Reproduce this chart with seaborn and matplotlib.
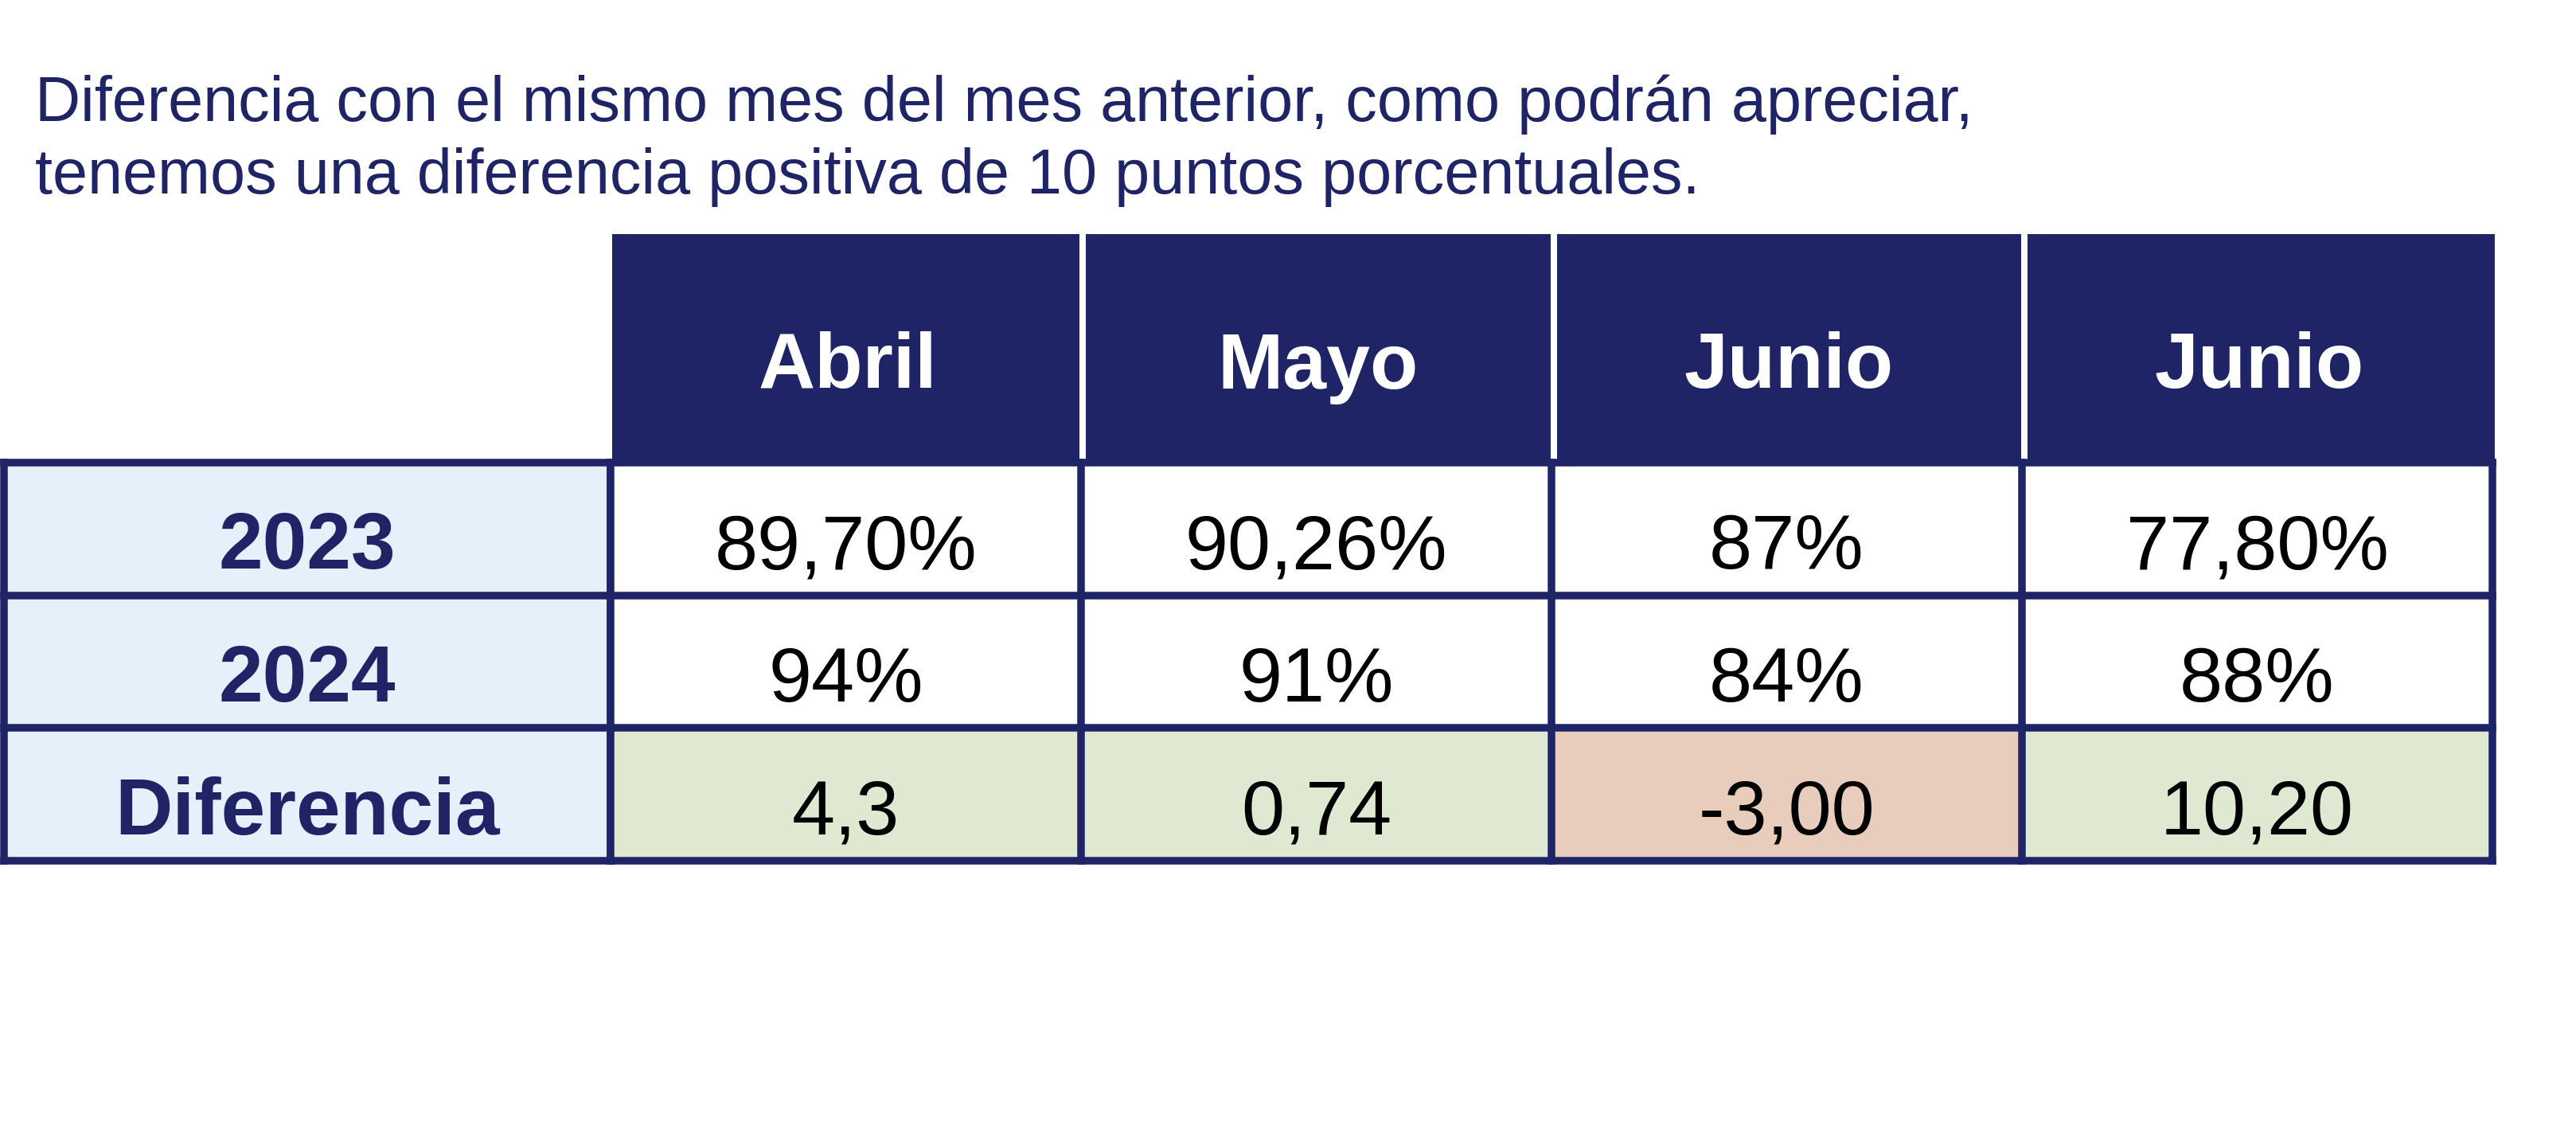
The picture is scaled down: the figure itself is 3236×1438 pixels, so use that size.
import numpy as np
import pandas as pd
import matplotlib
matplotlib.use("Agg")
import matplotlib.pyplot as plt
import seaborn as sns
from matplotlib.colors import ListedColormap
from matplotlib.transforms import ScaledTranslation

# Table contents
months = ["Abril", "Mayo", "Junio", "Junio"]
row_labels = ["2023", "2024", "Diferencia"]
values_2023 = ["89,70%", "90,26%", "87%", "77,80%"]
values_2024 = ["94%", "91%", "84%", "88%"]
diferencia = ["4,3", "0,74", "-3,00", "10,20"]
title_lines = [
    "Diferencia con el mismo mes del mes anterior, como podrán apreciar,",
    "tenemos una diferencia positiva de 10 puntos porcentuales.",
]

NAVY = "#1F2466"
LABEL_BG = "#E6F0FA"
GREEN = "#DFE8D0"
SALMON = "#E8CCBC"

W, H, DPI = 3236, 1438, 100
LW = 9.5 * 72 / DPI  # grid line width in px -> pt

sns.set_theme(style="white")
plt.rcParams["font.family"] = ["Liberation Sans", "DejaVu Sans"]

fig = plt.figure(figsize=(W / DPI, H / DPI), dpi=DPI)
fig.patch.set_facecolor("white")


def px_axes(x0, y0, x1, y1):
    # axes from pixel box (top-left origin)
    return fig.add_axes([x0 / W, 1 - y1 / H, (x1 - x0) / W, (y1 - y0) / H])


def baseline_shift(ax, px):
    return ax.transData + ScaledTranslation(0, -px / DPI, fig.dpi_scale_trans)


# header row
ax_head = px_axes(769, 294, 3134, 581)
sns.heatmap(np.zeros((1, len(months))), ax=ax_head, cmap=ListedColormap([NAVY]),
            cbar=False, xticklabels=False, yticklabels=False,
            annot=np.array([months]), fmt="",
            annot_kws=dict(color="white", fontsize=71, fontweight="bold", va="baseline",
                           transform=baseline_shift(ax_head, 50)))
ax_head.vlines(range(1, len(months)), 0, 1, colors="white", lw=8 * 72 / DPI)
ax_head.axis("off")

# row label column
ax_lab = px_axes(4.5, 581, 767, 1081)
sns.heatmap(np.zeros((len(row_labels), 1)), ax=ax_lab, cmap=ListedColormap([LABEL_BG]),
            cbar=False, xticklabels=False, yticklabels=False,
            annot=np.array(row_labels).reshape(-1, 1), fmt="",
            annot_kws=dict(color=NAVY, fontsize=72, fontweight="bold", va="baseline",
                           transform=baseline_shift(ax_lab, 50)))
ax_lab.hlines(range(len(row_labels) + 1), 0, 1, colors=NAVY, lw=LW, clip_on=False,
              capstyle="projecting")
ax_lab.vlines([0, 1], 0, len(row_labels), colors=NAVY, lw=LW, clip_on=False,
              capstyle="projecting")
ax_lab.axis("off")

# data cells, difference row coloured by sign
diff_num = np.array([float(v.replace(",", ".")) for v in diferencia])
codes = np.vstack([np.zeros(4), np.zeros(4), np.where(diff_num >= 0, 1, 2)])
annot = np.array([values_2023, values_2024, diferencia])
df = pd.DataFrame(codes, index=row_labels, columns=months)

ax = px_axes(767, 581, 3131, 1081)
sns.heatmap(df, ax=ax, cmap=ListedColormap(["white", GREEN, SALMON]), vmin=0, vmax=2,
            cbar=False, xticklabels=False, yticklabels=False,
            annot=annot, fmt="",
            annot_kws=dict(color="black", fontsize=70, va="baseline",
                           transform=baseline_shift(ax, 50)))
ax.hlines(range(len(row_labels) + 1), 0, len(months), colors=NAVY, lw=LW, clip_on=False,
          capstyle="projecting")
ax.vlines(range(len(months) + 1), 0, len(row_labels), colors=NAVY, lw=LW, clip_on=False,
          capstyle="projecting")
ax.axis("off")

# title
for line, base in zip(title_lines, [152, 243]):
    fig.text(44 / W, 1 - base / H, line, ha="left", va="baseline", fontsize=57,
             color=NAVY)

fig.savefig("out.png", dpi=DPI, facecolor="white")
